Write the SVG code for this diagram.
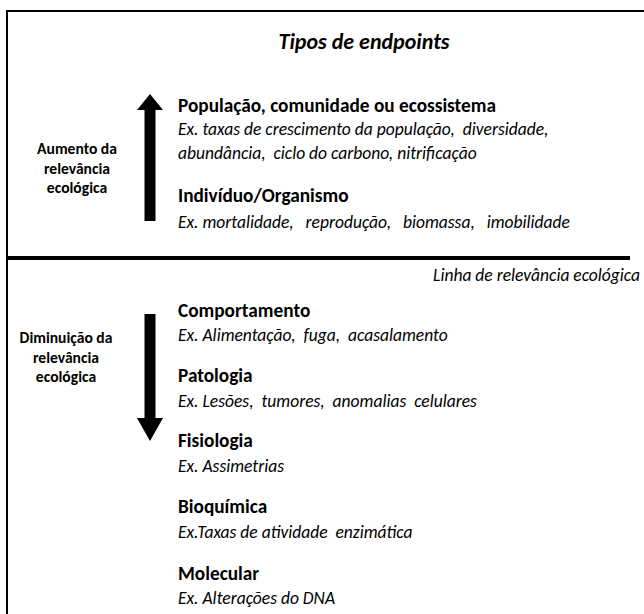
<svg xmlns="http://www.w3.org/2000/svg" width="644" height="614" viewBox="0 0 644 614" xml:space="preserve">
<style>
text{fill:#000;font-family:Carlito,Lato,"Liberation Sans",sans-serif;white-space:pre}
.t{font-size:22px;font-weight:bold;font-style:italic}
.h{font-size:19.3px;font-weight:bold}
.e{font-size:17.5px;font-style:italic}
.l{font-size:15.6px;font-weight:bold;text-anchor:middle}
.arrow{fill:#000}
</style>
<rect x="0" y="0" width="644" height="614" fill="#fff"/>
<path d="M7,614 V11 H644" fill="none" stroke="#000" stroke-width="2"/>
<g id="title"><text class="t" x="364" y="49" text-anchor="middle">Tipos de endpoints</text></g>
<g id="connectors">
<polygon id="arrow-up" class="arrow" points="150,94 163,110 155.5,110 155.5,221 144.5,221 144.5,110 137,110"/>
<polygon id="arrow-down" class="arrow" points="144.5,314 155.5,314 155.5,418 163,418 150,441 137,418 144.5,418"/>
<line id="relevance-line" x1="7" y1="258" x2="630" y2="258" stroke="#000" stroke-width="4"/>
</g>
<g id="label-up"><text class="l" x="77" y="154">Aumento da</text><text class="l" x="77" y="174">relevância</text><text class="l" x="77" y="193">ecológica</text></g>
<g id="label-down"><text class="l" x="66" y="343">Diminuição da</text><text class="l" x="66" y="363">relevância</text><text class="l" x="66" y="382">ecológica</text></g>
<g id="line-label"><text class="e" x="640" y="281" text-anchor="end">Linha de relevância ecológica</text></g>
<g id="populacao"><text class="h" x="178" y="112">População, comunidade ou ecossistema</text><text class="e" x="178" y="135">Ex. taxas de crescimento da população,  diversidade,</text><text class="e" x="178" y="159">abundância,  ciclo do carbono, nitrificação</text></g>
<g id="individuo"><text class="h" x="178" y="202">Indivíduo/Organismo</text><text class="e" x="178" y="228">Ex. mortalidade,   reprodução,   biomassa,   imobilidade</text></g>
<g id="comportamento"><text class="h" x="178" y="317">Comportamento</text><text class="e" x="178" y="341">Ex. Alimentação,  fuga,  acasalamento</text></g>
<g id="patologia"><text class="h" x="178" y="382">Patologia</text><text class="e" x="178" y="407">Ex. Lesões,  tumores,  anomalias  celulares</text></g>
<g id="fisiologia"><text class="h" x="178" y="447">Fisiologia</text><text class="e" x="178" y="472">Ex. Assimetrias</text></g>
<g id="bioquimica"><text class="h" x="178" y="513">Bioquímica</text><text class="e" x="178" y="538">Ex.Taxas de atividade  enzimática</text></g>
<g id="molecular"><text class="h" x="178" y="580">Molecular</text><text class="e" x="178" y="604">Ex. Alterações do DNA</text></g>
</svg>
